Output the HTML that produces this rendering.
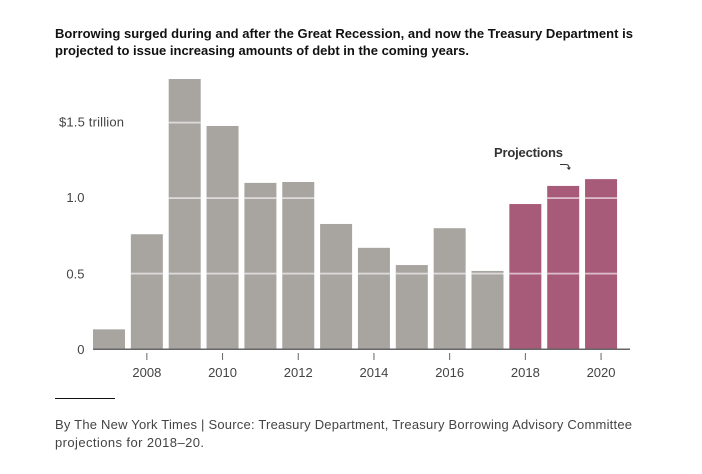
<!DOCTYPE html>
<html lang="en">
<head>
<meta charset="utf-8">
<title>Treasury borrowing</title>
<style>
html,body{margin:0;padding:0;background:#fff;width:702px;height:474px;overflow:hidden}
svg{display:block}
text{font-family:"Liberation Sans",Arial,sans-serif}
.title{font-size:13px;font-weight:700;fill:#111}
.tick{font-size:13px;fill:#444}
.note{font-size:13px;fill:#444}
</style>
</head>
<body>
<svg id="chart" width="702" height="474" viewBox="0 0 702 474">
  <text class="title" x="55" y="38" textLength="578" lengthAdjust="spacing">Borrowing surged during and after the Great Recession, and now the Treasury Department is</text>
  <text class="title" x="55" y="55" textLength="414" lengthAdjust="spacing">projected to issue increasing amounts of debt in the coming years.</text>
  <g id="bars"></g>
  <g id="grid"></g>
  <g id="yaxis"></g>
  <g id="xaxis"></g>
  <text x="494" y="157" font-size="13" font-weight="700" fill="#333" textLength="69" lengthAdjust="spacing">Projections</text>
  <path d="M560 164.5H566Q569 164.5 569 168" fill="none" stroke="#333" stroke-width="1"/>
  <path d="M566.5 167.5H571L569 170Z" fill="#333"/>
  <rect x="55" y="398" width="60" height="1" fill="#111"/>
  <text class="note" x="55" y="429" textLength="577" lengthAdjust="spacing">By The New York Times | Source: Treasury Department, Treasury Borrowing Advisory Committee</text>
  <text class="note" x="55" y="447" textLength="149" lengthAdjust="spacing">projections for 2018–20.</text>
</svg>
<script>
const years = [2007,2008,2009,2010,2011,2012,2013,2014,2015,2016,2017,2018,2019,2020];
const borrowing = [0.13,0.76,1.788,1.477,1.10,1.106,0.828,0.67,0.556,0.80,0.517,0.96,1.08,1.125];
const firstProjectionYear = 2018;
const yTicks = [0,0.5,1,1.5];
const yTickLabels = ["0","0.5","1.0","$1.5 trillion"];
const xTicks = [2008,2010,2012,2014,2016,2018,2020];

const NS = "http://www.w3.org/2000/svg";
const baseY = 349, unitPx = 151, firstX = 93, stepX = 37.85, barW = 32;
function y(v){ return baseY - v * unitPx; }
function x(year){ return firstX + (year - years[0]) * stepX; }
function make(tag, attrs, parent){
  const el = document.createElementNS(NS, tag);
  for (const k in attrs) el.setAttribute(k, attrs[k]);
  parent.appendChild(el);
  return el;
}
const barsG = document.getElementById("bars");
const gridG = document.getElementById("grid");
const yG = document.getElementById("yaxis");
const xG = document.getElementById("xaxis");

years.forEach(function(yr, i){
  const b = make("rect", {x:x(yr), y:y(borrowing[i]), width:barW, height:baseY - y(borrowing[i]), fill: yr >= firstProjectionYear ? "#a75b78" : "#a8a5a1"}, barsG);
  
  
});

yTicks.forEach(function(t, i){
  if (t > 0) {
    years.forEach(function(yr, j){
      if (borrowing[j] > t) {
        const g = make("rect", {x:x(yr), y:y(t) - 0.8, width:barW, height:1.8, fill:"#fff", "fill-opacity":"0.6"}, gridG);
        
        
      }
    });
  }
  const isTop = i === yTicks.length - 1;
  const lab = make("text", {x: isTop ? 59 : 84.5, y: y(t) + (t < 1 ? 5 : 4), "text-anchor": isTop ? "start" : "end", "class":"tick"}, yG);
  if (isTop) {
    lab.setAttribute("textLength", "65");
    lab.setAttribute("lengthAdjust", "spacing");
  }
  
  
  lab.textContent = yTickLabels[i];
});

const axisLine = make("rect", {x:93, y:baseY - 0.5, width:537, height:1.5, fill:"#666"}, xG);



xTicks.forEach(function(yr){
  const cx = x(yr) + barW / 2;
  const tk = make("rect", {x:cx - 0.5, y:353, width:1, height:7, fill:"#666"}, xG);
  
  
  const lab = make("text", {x:cx, y:377, "text-anchor":"middle", "class":"tick"}, xG);
  
  
  lab.textContent = yr;
});
</script>
</body>
</html>
